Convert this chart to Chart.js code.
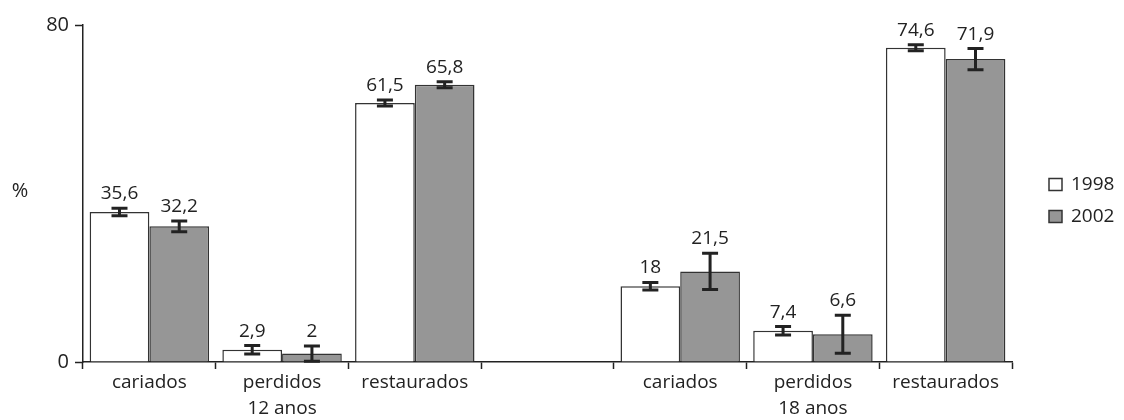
<!DOCTYPE html>
<html>
<head>
<meta charset="utf-8">
<script src="https://cdn.jsdelivr.net/npm/chart.js@4.4.1/dist/chart.umd.min.js"></script>
<style>
  html, body { margin: 0; padding: 0; background: #fff; }
  #wrap { width: 1124px; height: 420px; }
</style>
</head>
<body>
<div id="wrap"><canvas id="chart"></canvas></div>
<script>
const categories = ['cariados', 'perdidos', 'restaurados'];
const ageGroups = ['12 anos', '18 anos'];
const seriesNames = ['1998', '2002'];
const values1998 = [35.6, 2.9, 61.5, 18, 7.4, 74.6];
const values2002 = [32.2, 2, 65.8, 21.5, 6.6, 71.9];
const errors1998 = [0.9, 1.0, 0.7, 0.9, 1.0, 0.7];
const errors2002 = [1.3, 1.8, 0.7, 4.3, 4.5, 2.5];
const yTicks = [0, 80];

const FONT = "'Open Sans', sans-serif";
const INK = '#222';

// empty slot between the two age groups
const withGap = (arr, blank) => [...arr.slice(0, 3), blank, ...arr.slice(3)];
// the group name goes under the middle category
const labels = withGap(ageGroups.flatMap(g => categories.map((c, i) => i === 1 ? [c, g] : c)), '');

const errorBars = {
  id: 'errorBars',
  afterDatasetsDraw(chart) {
    const { ctx } = chart;
    const y = chart.scales.y;
    ctx.save();
    chart.data.datasets.forEach((ds, di) => {
      chart.getDatasetMeta(di).data.forEach((bar, i) => {
        const v = ds.data[i];
        if (v == null) return;
        const e = ds.errors[i];
        const top = y.getPixelForValue(v + e);
        const bot = y.getPixelForValue(v - e);
        ctx.strokeStyle = INK;
        ctx.lineWidth = 3;
        ctx.beginPath();
        ctx.moveTo(bar.x, top); ctx.lineTo(bar.x, bot);
        ctx.moveTo(bar.x - 8, top); ctx.lineTo(bar.x + 8, top);
        ctx.moveTo(bar.x - 8, bot); ctx.lineTo(bar.x + 8, bot);
        ctx.stroke();
        ctx.fillStyle = INK;
        ctx.font = '19px ' + FONT;
        ctx.textAlign = 'center';
        ctx.textBaseline = 'alphabetic';
        ctx.fillText(String(v).replace('.', ','), bar.x, top - 9);
      });
    });
    ctx.restore();
  }
};

// "%" unit next to the y axis, and the legend on the right
const extras = {
  id: 'extras',
  afterDraw(chart) {
    const { ctx, chartArea } = chart;
    const mid = (chartArea.top + chartArea.bottom) / 2;
    ctx.save();
    ctx.fillStyle = INK;
    ctx.font = '20px ' + FONT;
    ctx.textBaseline = 'middle';
    ctx.textAlign = 'center';
    ctx.fillText('%', 20, mid - 2);

    ctx.font = '19px ' + FONT;
    ctx.textAlign = 'left';
    chart.data.datasets.forEach((ds, i) => {
      const cy = mid - 9 + i * 32;
      const bx = chartArea.right + 37;
      ctx.fillStyle = ds.backgroundColor;
      ctx.fillRect(bx, cy - 6, 13, 12);
      ctx.strokeStyle = '#333';
      ctx.lineWidth = 1.5;
      ctx.strokeRect(bx, cy - 6, 13, 12);
      ctx.fillStyle = INK;
      ctx.fillText(ds.label, bx + 22, cy);
    });
    ctx.restore();
  }
};

new Chart(document.getElementById('chart'), {
  type: 'bar',
  plugins: [errorBars, extras],
  data: {
    labels: labels,
    datasets: [
      {
        label: seriesNames[0],
        data: withGap(values1998, null),
        errors: withGap(errors1998, null),
        backgroundColor: '#ffffff',
        borderColor: '#333',
        borderWidth: 1.5,
      },
      {
        label: seriesNames[1],
        data: withGap(values2002, null),
        errors: withGap(errors2002, null),
        backgroundColor: '#969696',
        borderColor: '#333',
        borderWidth: 1.5,
      },
    ]
  },
  options: {
    responsive: true,
    maintainAspectRatio: false,
    animation: false,
    categoryPercentage: 0.9,
    barPercentage: 1,
    layout: {
      padding: { top: 25, right: 112, left: 0, bottom: 0 }
    },
    plugins: {
      legend: { display: false },
      tooltip: { enabled: false },
    },
    scales: {
      x: {
        offset: true,
        border: { display: true, color: INK, width: 1.5 },
        grid: {
          offset: true,
          drawOnChartArea: false,
          tickLength: 7,
          tickColor: INK,
          tickWidth: 1.5,
        },
        ticks: {
          color: INK,
          font: { family: FONT, size: 19, lineHeight: 1.35 },
          padding: 1,
          maxRotation: 0,
          autoSkip: false,
        },
        afterFit: s => { s.height = 58; },
      },
      y: {
        min: 0,
        max: 80,
        border: { display: true, color: INK, width: 1.5 },
        grid: {
          drawOnChartArea: false,
          tickLength: 8,
          tickColor: INK,
          tickWidth: 1.5,
        },
        ticks: {
          color: INK,
          font: { family: FONT, size: 20 },
          padding: 6,
        },
        afterBuildTicks: s => { s.ticks = yTicks.map(v => ({ value: v })); },
        afterFit: s => { s.width = 83; },
      }
    }
  },
});
</script>
</body>
</html>
